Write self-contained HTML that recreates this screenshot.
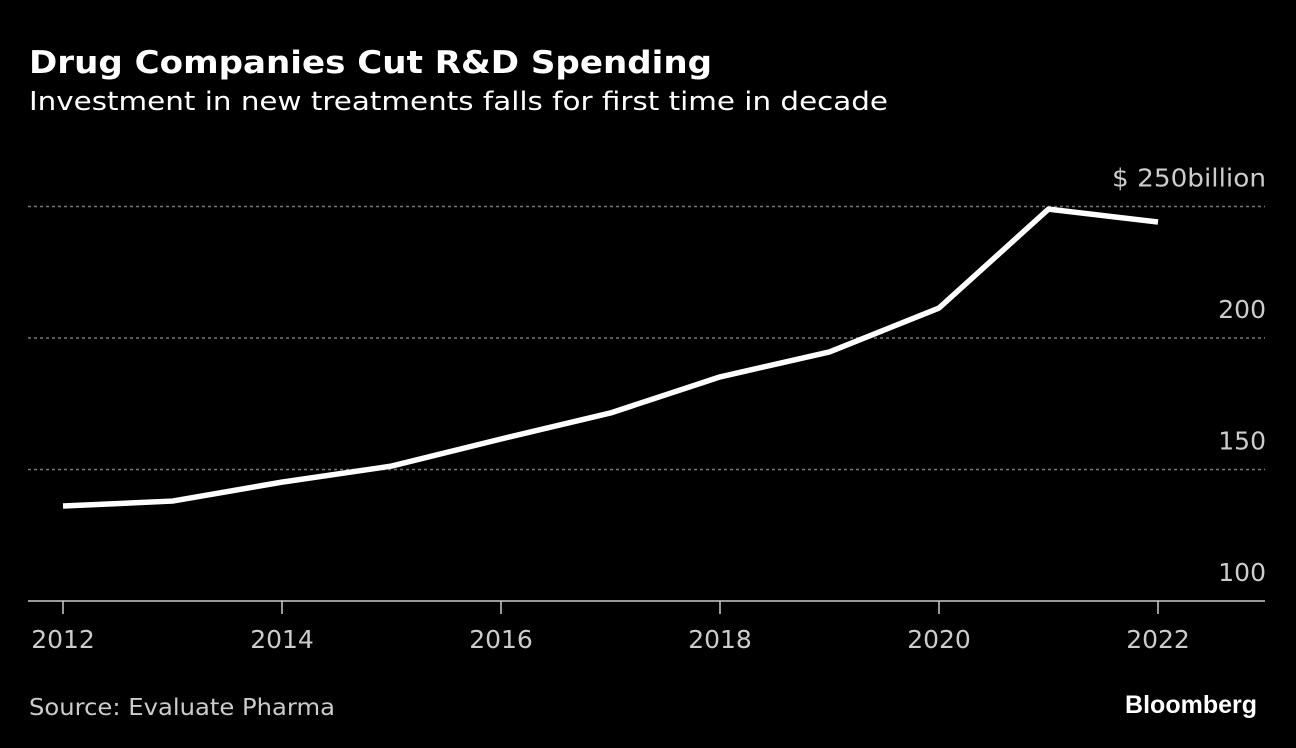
<!DOCTYPE html>
<html><head><meta charset="utf-8"><style>
body{margin:0;background:#000;width:1296px;height:748px;overflow:hidden;font-family:"DejaVu Sans","Liberation Sans",sans-serif;}
</style></head><body>
<svg width="1296" height="748" style="position:absolute;left:0;top:0" font-family="DejaVu Sans, Liberation Sans, sans-serif">
<text x="29" y="73" fill="#fff" font-size="31" font-weight="bold" textLength="683" lengthAdjust="spacingAndGlyphs">Drug Companies Cut R&amp;D Spending</text>
<text x="29" y="110" fill="#fff" font-size="26" textLength="859" lengthAdjust="spacingAndGlyphs">Investment in new treatments falls for first time in decade</text>
<g id="grid"></g>
<g id="axis"></g>
<path id="line" fill="none" stroke="#fff" stroke-width="5.5" stroke-linejoin="round"/>
<text x="29" y="715" fill="#ccc" font-size="23" textLength="306" lengthAdjust="spacingAndGlyphs">Source: Evaluate Pharma</text>
<text x="1257" y="713" fill="#fff" font-size="25" font-weight="bold" font-family="Liberation Sans, sans-serif" text-anchor="end">Bloomberg</text>
</svg>
<script>
const years=[2012,2013,2014,2015,2016,2017,2018,2019,2020,2021,2022];
const values=[136.1,138,145.2,151.3,161.6,171.5,185.2,194.7,211.4,249,244.1];
const yTicks=[100,150,200,250];
const yTickLabels=["100","150","200","$ 250billion"];
const xTicks=[2012,2014,2016,2018,2020,2022];
const ns="http://www.w3.org/2000/svg";
const x=v=>63+(v-2012)*109.5;
const y=v=>601-(v-100)*2.63;
const grid=document.getElementById('grid'),axis=document.getElementById('axis');
function mk(tag,attrs,parent){const e=document.createElementNS(ns,tag);for(const k in attrs)e.setAttribute(k,attrs[k]);parent.appendChild(e);return e;}
yTicks.forEach((t,i)=>{
  if(t>100){const l=mk('line',{x1:28,x2:1265,y1:y(t),y2:y(t),stroke:'#777','stroke-width':1.5,'stroke-dasharray':'3,3'},grid);
  
  }
  const tx=mk('text',{x:1266,y:y(t)-20,fill:'#ccc','font-size':25,'text-anchor':'end'},axis);
  if(t===250){tx.setAttribute('textLength',154);tx.setAttribute('lengthAdjust','spacingAndGlyphs');}
  tx.textContent=yTickLabels[i];
  
  
});
const base=mk('line',{x1:28,x2:1265,y1:601,y2:601,stroke:'#ccc','stroke-width':1.5},axis);


xTicks.forEach(t=>{
  const tk=mk('line',{x1:x(t),x2:x(t),y1:601,y2:614,stroke:'#ccc','stroke-width':1.5},axis);
  
  
  const tx=mk('text',{x:x(t),y:648,fill:'#ccc','font-size':25,'text-anchor':'middle'},axis);
  tx.textContent=t;
  
  
});
document.getElementById('line').setAttribute('d',years.map((yr,i)=>(i?'L':'M')+x(yr)+','+y(values[i])).join(''));
</script>
</body></html>
